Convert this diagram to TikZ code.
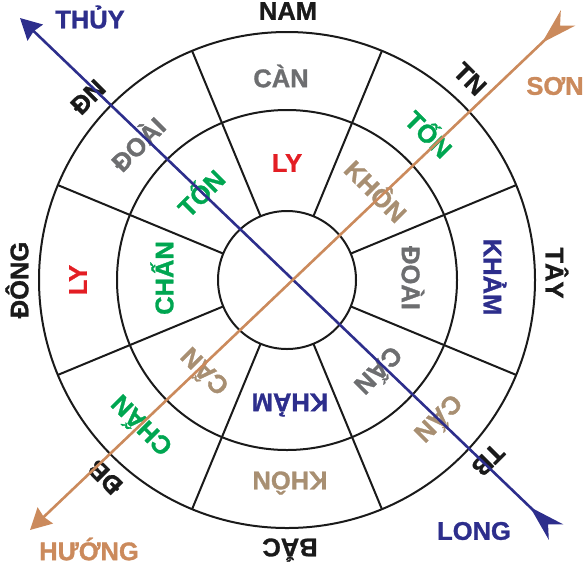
\documentclass[tikz,border=0pt]{standalone}
\usepackage{fontspec}
\setmainfont{Liberation Sans}[BoldFeatures={FakeBold=1.2}]
\usetikzlibrary{arrows.meta}
\definecolor{ink}{HTML}{1A1A1A}
\definecolor{navy}{HTML}{2D2E8C}
\definecolor{sand}{HTML}{CB8A5C}
\definecolor{greyt}{HTML}{6D6E70}
\definecolor{greent}{HTML}{00A651}
\definecolor{redt}{HTML}{E31E24}
\definecolor{tant}{HTML}{A88F72}
\begin{document}
\begin{tikzpicture}[x=1pt,y=-1pt,
  lbl/.style={font=\fontsize{25.5}{25.5}\selectfont\bfseries, inner sep=0pt, anchor=center},
  card/.style={lbl, text=ink},
  ringline/.style={draw=ink, line width=2pt},
  bluearrow/.style={draw=navy, fill=navy, line width=2.6pt,
     {Stealth[reversed, length=36pt, width=21pt, inset=11pt]}-{Stealth[length=21pt, width=22pt, inset=2pt]}},
  sandarrow/.style={draw=sand, fill=sand, line width=2.6pt,
     {Stealth[reversed, length=36pt, width=21pt, inset=11pt]}-{Stealth[length=21pt, width=22pt, inset=2pt]}}
]
\useasboundingbox (0,0) rectangle (583,566);
\coordinate (O) at (287,280);
% circles
\draw[ringline] (O) circle[radius=69];
\draw[ringline] (O) circle[radius=170];
\draw[ringline] (O) circle[radius=248];
\foreach \a in {22.5,67.5,...,337.5}
  \draw[ringline] ([shift={(\a:69)}]O) -- ([shift={(\a:248)}]O);
% cardinal labels
\node[card] (nam) at (288,11) {NAM};
\node[card, rotate=-45] (tn) at (470,79) {TN};
\node[card, rotate=-90] (tay) at (557,273) {TÂY};
\node[card, rotate=-135] (tb) at (488,460) {TB};
\node[card, rotate=180] (bac) at (290,550) {BẮC};
\node[card, rotate=135] (db) at (105,477) {ĐB};
\node[card, rotate=90] (dong) at (17,280) {ĐÔNG};
\node[card, rotate=45] (dn) at (88,97) {ĐN};
% outer ring
\node[lbl, text=greyt] (o1) at (281,76) {CÀN};
\node[lbl, text=greent, rotate=-45] (o2) at (430,133) {TỐN};
\node[lbl, text=navy, rotate=-90] (o3) at (495,277) {KHẢM};
\node[lbl, text=tant, rotate=-135] (o4) at (440,420) {CẤN};
\node[lbl, text=tant, rotate=180] (o5) at (290,483) {KHÔN};
\node[lbl, text=greent, rotate=135] (o6) at (140,427) {CHẤN};
\node[lbl, text=redt, rotate=90] (o7) at (78,280) {LY};
\node[lbl, text=greyt, rotate=45] (o8) at (137,143) {ĐOÀI};
% inner ring
\node[lbl, text=redt] (i1) at (287,163) {LY};
\node[lbl, text=tant, rotate=-45] (i2) at (377,190) {KHÔN};
\node[lbl, text=greyt, rotate=-90] (i3) at (413,278) {ĐOÀI};
\node[lbl, text=greyt, rotate=-135] (i4) at (380,372) {CẤN};
\node[lbl, text=navy, rotate=180] (i5) at (290,405) {KHẢM};
\node[lbl, text=tant, rotate=135] (i6) at (203,373) {CẤN};
\node[lbl, text=greent, rotate=90] (i7) at (162,278) {CHẤN};
\node[lbl, text=greent, rotate=45] (i8) at (200,192) {TỐN};
% far labels
\node[lbl, text=navy] (thuy) at (90,17) {THỦY};
\node[lbl, text=sand] (son) at (555,86) {SƠN};
\node[lbl, text=sand] (huong) at (89,549) {HƯỚNG};
\node[lbl, text=navy] (long) at (474,531) {LONG};
% arrows
\coordinate (bluehead) at (20,18);
\coordinate (bluetail) at (556,532);
\coordinate (sandhead) at (30,530);
\coordinate (sandtail) at (568,18);
\draw[bluearrow] (bluetail) -- (bluehead);
\draw[sandarrow] (sandtail) -- (sandhead);
\end{tikzpicture}
\end{document}
